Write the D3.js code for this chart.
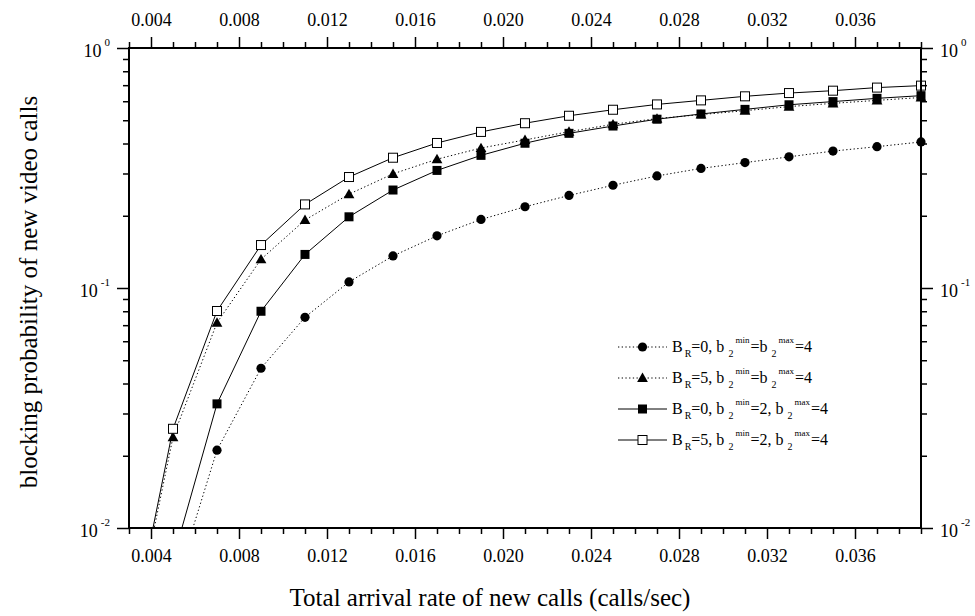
<!DOCTYPE html>
<html>
<head>
<meta charset="utf-8">
<script src="https://cdn.jsdelivr.net/npm/d3@7"></script>
<style>
  body { margin: 0; background: #fff; }
  text { font-family: "Liberation Serif", "Times New Roman", serif; fill: #000; }
</style>
</head>
<body>
<div id="chart"></div>
<script>
// chart.js
const width = 975;
const height = 616;

// data
const rate = [0.003, 0.005, 0.007, 0.009, 0.011, 0.013, 0.015, 0.017, 0.019, 0.021,
    0.023, 0.025, 0.027, 0.029, 0.031, 0.033, 0.035, 0.037, 0.039];
const circleBR0 = [null, 0.0054, 0.0211, 0.0463, 0.0755, 0.106, 0.136, 0.165, 0.193, 0.218,
    0.243, 0.268, 0.293, 0.315, 0.333, 0.352, 0.372, 0.388, 0.406];
const triangleBR5 = [0.0031, 0.0239, 0.0717, 0.1317, 0.192, 0.246, 0.299, 0.344, 0.383, 0.414,
    0.448, 0.481, 0.508, 0.528, 0.548, 0.570, 0.588, 0.605, 0.622];
const squareBR0 = [null, 0.0074, 0.0329, 0.080, 0.138, 0.198, 0.256, 0.309, 0.357, 0.401,
    0.441, 0.473, 0.505, 0.531, 0.555, 0.580, 0.598, 0.617, 0.633];
const openSquareBR5 = [0.0032, 0.0259, 0.0802, 0.151, 0.223, 0.290, 0.349, 0.402, 0.447, 0.486,
    0.522, 0.553, 0.582, 0.605, 0.629, 0.649, 0.664, 0.684, 0.697];

const xMajorTicks = [0.004, 0.008, 0.012, 0.016, 0.020, 0.024, 0.028, 0.032, 0.036];
const yMajorTicks = [0.01, 0.1, 1];
const yTickExponents = ["-2", "-1", "0"];

const series = [
    { values: circleBR0, marker: "circle", dashed: true, br: "0", mid: "=b" },
    { values: triangleBR5, marker: "triangle", dashed: true, br: "5", mid: "=b" },
    { values: squareBR0, marker: "square", dashed: false, br: "0", mid: "=2, b" },
    { values: openSquareBR5, marker: "open", dashed: false, br: "5", mid: "=2, b" }
];

const margin = { top: 48, right: 54, bottom: 88, left: 129 };
const plotW = width - margin.left - margin.right;
const plotH = height - margin.top - margin.bottom;

const svg = d3.select("#chart")
    .append("svg")
    .attr("width", width)
    .attr("height", height);

const x = d3.scaleLinear().domain([0.003, 0.039]).range([margin.left, margin.left + plotW]);
const y = d3.scaleLog().domain([0.01, 1]).range([margin.top + plotH, margin.top]);

// minor tick values
const xMinor = d3.range(3, 40).map(d => d / 1000).filter(d => !xMajorTicks.some(t => Math.abs(t - d) < 1e-9));
const yMinor = [];
[0.01, 0.1].forEach(dec => { for (let k = 2; k <= 9; k++) yMinor.push(dec * k); });

svg.append("clipPath").attr("id", "plotClip")
    .append("rect")
    .attr("x", margin.left - 10)
    .attr("y", margin.top)
    .attr("width", plotW + 20)
    .attr("height", plotH);

// data lines
const lineGen = d3.line()
    .defined(d => d[1] != null)
    .x(d => x(d[0]))
    .y(d => y(d[1]));

const plot = svg.append("g").attr("clip-path", "url(#plotClip)");

function drawMarker(g, type, cx, cy) {
    if (type === "circle") {
        g.append("circle").attr("cx", cx).attr("cy", cy).attr("r", 4.6).attr("fill", "#000");
    } else if (type === "triangle") {
        const s = 5.4;
        g.append("path")
            .attr("d", `M${cx},${cy - s}L${cx + s},${cy + s * 0.75}L${cx - s},${cy + s * 0.75}Z`)
            .attr("fill", "#000");
    } else if (type === "square") {
        g.append("rect").attr("x", cx - 4.5).attr("y", cy - 4.5).attr("width", 9).attr("height", 9).attr("fill", "#000");
    } else {
        g.append("rect").attr("x", cx - 4.5).attr("y", cy - 4.5).attr("width", 9).attr("height", 9)
            .attr("fill", "#fff").attr("stroke", "#000").attr("stroke-width", 1);
    }
}

series.forEach(s => {
    const pts = rate.map((r, i) => [r, s.values[i]]);
    plot.append("path")
        .attr("d", lineGen(pts))
        .attr("fill", "none")
        .attr("stroke", "#000")
        .attr("stroke-width", 1)
        .attr("stroke-dasharray", s.dashed ? "1.3,2.4" : null);
});
series.forEach(s => {
    const g = plot.append("g");
    rate.forEach((r, i) => {
        if (s.values[i] != null) drawMarker(g, s.marker, x(r), y(s.values[i]));
    });
});

// axes
const fmt = d3.format(".3f");
const axisStyle = g => {
    g.select(".domain").remove();
    g.selectAll("line").attr("stroke", "#000").attr("stroke-width", 1.5);
    g.selectAll("text").attr("font-size", 18).attr("font-family", "Liberation Serif, serif");
};

svg.append("g").attr("transform", `translate(0,${margin.top + plotH})`)
    .call(d3.axisBottom(x).tickValues(xMajorTicks).tickFormat(fmt).tickSize(11).tickPadding(10))
    .call(axisStyle);
svg.append("g").attr("transform", `translate(0,${margin.top + plotH})`)
    .call(d3.axisBottom(x).tickValues(xMinor).tickFormat("").tickSize(6))
    .call(axisStyle);
svg.append("g").attr("transform", `translate(0,${margin.top})`)
    .call(d3.axisTop(x).tickValues(xMajorTicks).tickFormat(fmt).tickSize(11).tickPadding(11))
    .call(axisStyle);
svg.append("g").attr("transform", `translate(0,${margin.top})`)
    .call(d3.axisTop(x).tickValues(xMinor).tickFormat("").tickSize(6))
    .call(axisStyle);

svg.append("g").attr("transform", `translate(${margin.left},0)`)
    .call(d3.axisLeft(y).tickValues(yMajorTicks).tickFormat("").tickSize(12))
    .call(axisStyle);
svg.append("g").attr("transform", `translate(${margin.left},0)`)
    .call(d3.axisLeft(y).tickValues(yMinor).tickFormat("").tickSize(6))
    .call(axisStyle);
svg.append("g").attr("transform", `translate(${margin.left + plotW},0)`)
    .call(d3.axisRight(y).tickValues(yMajorTicks).tickFormat("").tickSize(12))
    .call(axisStyle);
svg.append("g").attr("transform", `translate(${margin.left + plotW},0)`)
    .call(d3.axisRight(y).tickValues(yMinor).tickFormat("").tickSize(6))
    .call(axisStyle);

// frame
svg.append("rect")
    .attr("x", margin.left).attr("y", margin.top)
    .attr("width", plotW).attr("height", plotH)
    .attr("fill", "none").attr("stroke", "#000").attr("stroke-width", 2);

// y tick labels: 10 with superscript exponent
yMajorTicks.forEach((v, i) => {
    const left = svg.append("text")
        .attr("x", margin.left - 19)
        .attr("y", y(v) + 9)
        .attr("text-anchor", "end")
        .attr("font-size", 18);
    left.append("tspan").text("10");
    left.append("tspan").attr("dx", 3).attr("dy", -11).attr("font-size", 11).text(yTickExponents[i]);

    const right = svg.append("text")
        .attr("x", margin.left + plotW + 19)
        .attr("y", y(v) + 9)
        .attr("font-size", 18);
    right.append("tspan").text("10");
    right.append("tspan").attr("dx", 3).attr("dy", -11).attr("font-size", 11).text(yTickExponents[i]);
});

// axis titles
svg.append("text")
    .attr("x", 490)
    .attr("y", 606)
    .attr("text-anchor", "middle")
    .attr("font-size", 25)
    .text("Total arrival rate of new calls (calls/sec)");

svg.append("text")
    .attr("transform", "translate(37,292) rotate(-90)")
    .attr("text-anchor", "middle")
    .attr("font-size", 25)
    .text("blocking probability of new video calls");

// legend
const legend = svg.append("g").attr("transform", "translate(618,347)");
series.forEach((s, i) => {
    const g = legend.append("g").attr("transform", `translate(0,${i * 31})`);
    g.append("line")
        .attr("x1", 0).attr("x2", 49).attr("y1", 0).attr("y2", 0)
        .attr("stroke", "#000").attr("stroke-width", 1)
        .attr("stroke-dasharray", s.dashed ? "1.3,2.4" : null);
    drawMarker(g, s.marker, 24.5, 0);
    const t = g.append("text").attr("x", 54).attr("y", 5).attr("font-size", 16);
    t.append("tspan").text("B");
    t.append("tspan").attr("dx", 2).attr("dy", 5).attr("font-size", 10).text("R");
    t.append("tspan").attr("dy", -5).text(`=${s.br}, b`);
    t.append("tspan").attr("dx", 4).attr("dy", 5).attr("font-size", 10).text("2");
    t.append("tspan").attr("dx", 2).attr("dy", -14).attr("font-size", 9).text("min");
    t.append("tspan").attr("dx", 1).attr("dy", 9).text(s.mid);
    t.append("tspan").attr("dx", 4).attr("dy", 5).attr("font-size", 10).text("2");
    t.append("tspan").attr("dx", 2).attr("dy", -14).attr("font-size", 9).text("max");
    t.append("tspan").attr("dx", 1).attr("dy", 9).text("=4");
});
</script>
</body>
</html>
